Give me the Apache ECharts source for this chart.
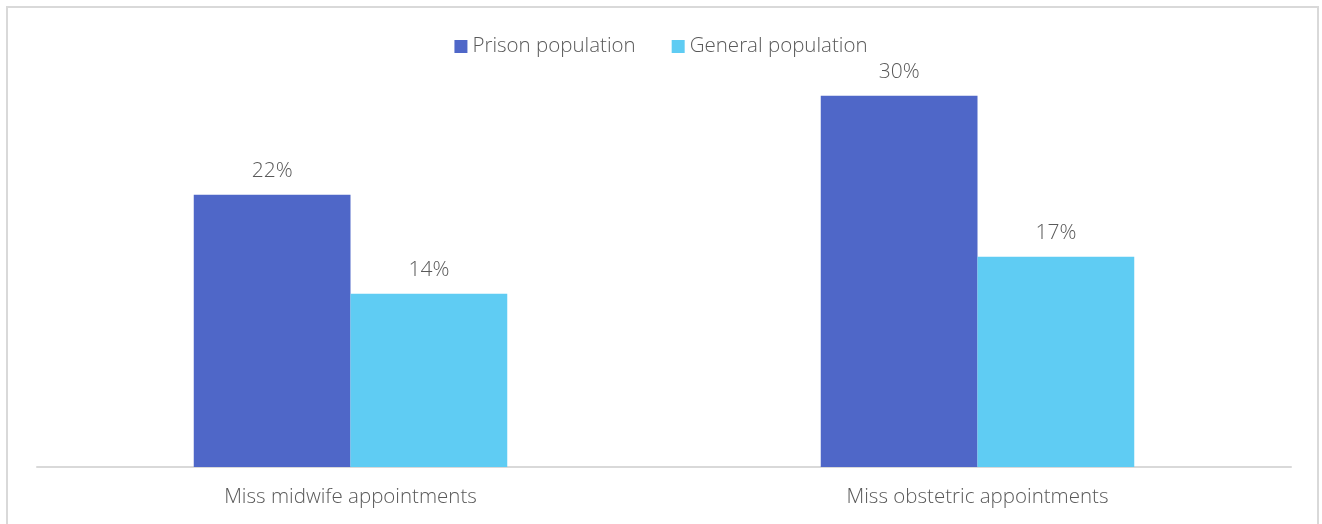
<!DOCTYPE html>
<html>
<head>
<meta charset="utf-8">
<script src="https://cdn.jsdelivr.net/npm/echarts@6/dist/echarts.min.js"></script>
<style>
  html, body { margin: 0; padding: 0; background: #fff; }
  #frame { position: absolute; left: 6px; top: 6px; width: 1313px; height: 530px; border: 2px solid #d9d9d9; box-sizing: border-box; }
  #chart { width: 1322px; height: 524px; }
</style>
</head>
<body>
<div id="frame"></div>
<div id="chart"></div>
<script>
const categories = ["Miss midwife appointments", "Miss obstetric appointments"];
const prison = [22, 30];
const general = [14, 17];

const textColor = "#595959";
const font = "'Open Sans', 'DejaVu Sans', sans-serif";

const chart = echarts.init(document.getElementById("chart"), null, { renderer: "canvas" });

function barLabel() {
  return {
    show: true,
    position: "top",
    distance: 13,
    formatter: p => p.value + "%",
    color: textColor,
    fontFamily: font,
    fontWeight: 300,
    fontSize: 21,
  };
}

chart.setOption({
  animation: false,
  legend: {
    top: 31,
    left: "center",
    itemWidth: 13,
    itemHeight: 13,
    itemGap: 36,
    icon: "rect",
    textStyle: { color: textColor, fontFamily: font, fontWeight: 300, fontSize: 20.5 },
  },
  grid: { left: 37, right: 31, top: 34, bottom: 57, containLabel: false },
  xAxis: {
    type: "category",
    data: categories,
    axisLine: { lineStyle: { color: "#d9d9d9", width: 2 } },
    axisTick: { show: false },
    axisLabel: { color: textColor, fontFamily: font, fontWeight: 300, fontSize: 20.5, margin: 20 },
  },
  yAxis: {
    type: "value",
    min: 0,
    max: 35,
    show: false,
    splitLine: { show: false },
  },
  series: [
    {
      name: "Prison population",
      type: "bar",
      data: prison,
      barGap: "0%",
      barCategoryGap: "50%",
      itemStyle: { color: "#4f67c8" },
      label: barLabel(),
    },
    {
      name: "General population",
      type: "bar",
      data: general,
      itemStyle: { color: "#5fccf3" },
      label: barLabel(),
    },
  ],
});
</script>
</body>
</html>
